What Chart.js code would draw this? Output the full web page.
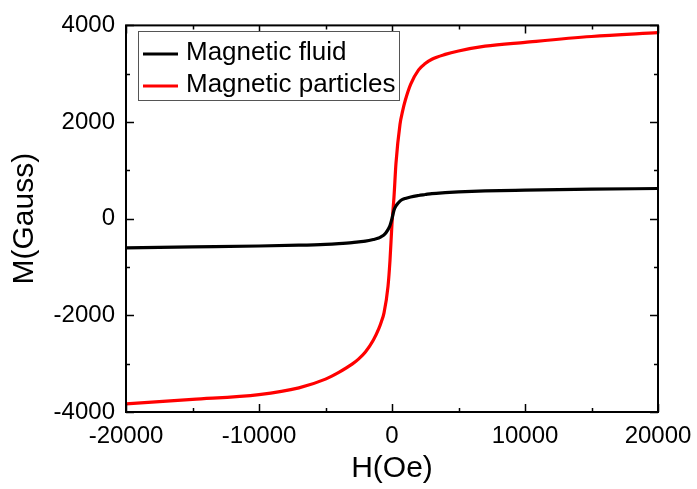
<!DOCTYPE html>
<html>
<head>
<meta charset="utf-8">
<script src="https://cdn.jsdelivr.net/npm/chart.js@4.4.1/dist/chart.umd.min.js"></script>
<style>
  html, body { margin: 0; padding: 0; background: #fff; }
  #wrap { width: 697px; height: 489px; }
</style>
</head>
<body>
<div id="wrap"><canvas id="mhChart"></canvas></div>
<script>
const fieldOe = [-20000, -15000, -10000, -7000, -5000, -4000, -3000, -2500, -2000, -1400, -1000, -800, -600, -300, -150, 0,
  150, 300, 600, 800, 1000, 1400, 2000, 2500, 3000, 4000, 5000, 7000, 10000, 15000, 20000];
const fluidM = [-605, -585, -565, -548, -530, -515, -495, -480, -465, -430, -400, -370, -335, -225, -140, 0,
  175, 265, 365, 400, 420, 450, 480, 500, 520, 540, 555, 575, 590, 610, 625];
const particlesM = [-3830, -3740, -3640, -3500, -3320, -3180, -3010, -2900, -2760, -2510, -2280, -2130, -1950, -1400, -860, -100,
  450, 1150, 1950, 2230, 2450, 2780, 3080, 3210, 3300, 3400, 3470, 3570, 3650, 3770, 3850];
const seriesNames = ["Magnetic fluid", "Magnetic particles"];
const seriesColors = ["#000000", "#ff0000"];
const xTicks = [-20000, -10000, 0, 10000, 20000];
const yTicks = [-4000, -2000, 0, 2000, 4000];

const FONT = "'Liberation Sans', Arial, sans-serif";
const toPoints = (ys) => fieldOe.map((x, i) => ({ x: x, y: ys[i] }));

// box, inward ticks on all four sides, legend inside plot
const framePlugin = {
  id: "frame",
  afterDraw(chart) {
    const { ctx, chartArea: a, scales } = chart;
    ctx.save();
    ctx.strokeStyle = "#000";
    ctx.lineWidth = 2;
    ctx.strokeRect(a.left, a.top, a.right - a.left, a.bottom - a.top);
    ctx.lineWidth = 1.5;
    ctx.beginPath();
    for (let v = -20000; v <= 20000; v += 5000) {
      const px = Math.round(scales.x.getPixelForValue(v)) + 0.5;
      const len = v % 10000 === 0 ? 8 : 4;
      ctx.moveTo(px, a.bottom); ctx.lineTo(px, a.bottom - len);
      ctx.moveTo(px, a.top); ctx.lineTo(px, a.top + len);
    }
    for (let v = -4000; v <= 4000; v += 1000) {
      const py = Math.round(scales.y.getPixelForValue(v)) + 0.5;
      const len = v % 2000 === 0 ? 8 : 4;
      ctx.moveTo(a.left, py); ctx.lineTo(a.left + len, py);
      ctx.moveTo(a.right, py); ctx.lineTo(a.right - len, py);
    }
    ctx.stroke();

    // legend
    const lx = 138, ly = 31, lw = 261, lh = 69;
    ctx.fillStyle = "#fff";
    ctx.fillRect(lx, ly, lw, lh);
    ctx.strokeStyle = "#555";
    ctx.lineWidth = 1;
    ctx.strokeRect(lx + 0.5, ly + 0.5, lw, lh);
    ctx.font = "26px " + FONT;
    ctx.textBaseline = "alphabetic";
    chart.data.datasets.forEach((ds, i) => {
      const base = ly + 29 + i * 32;
      ctx.strokeStyle = ds.borderColor;
      ctx.lineWidth = 3;
      ctx.beginPath();
      ctx.moveTo(lx + 5, base - 6); ctx.lineTo(lx + 40, base - 6);
      ctx.stroke();
      ctx.fillStyle = "#000";
      ctx.fillText(ds.label, lx + 48, base);
    });
    ctx.restore();
  },
};

new Chart(document.getElementById("mhChart"), {
  type: "scatter",
  data: {
    datasets: [
      {
        label: seriesNames[0],
        data: toPoints(fluidM),
        borderColor: seriesColors[0],
        backgroundColor: seriesColors[0],
        borderWidth: 3.2,
        showLine: true,
        pointRadius: 0,
        cubicInterpolationMode: "monotone",
      },
      {
        label: seriesNames[1],
        data: toPoints(particlesM),
        borderColor: seriesColors[1],
        backgroundColor: seriesColors[1],
        borderWidth: 3.2,
        showLine: true,
        pointRadius: 0,
        cubicInterpolationMode: "monotone",
      },
    ],
  },
  options: {
    responsive: true,
    maintainAspectRatio: false,
    animation: false,
    layout: { padding: { top: 25, right: 39, left: 0, bottom: 0 } },
    scales: {
      x: {
        type: "linear",
        min: -20000,
        max: 20000,
        afterBuildTicks: (s) => { s.ticks = xTicks.map((v) => ({ value: v })); },
        afterFit: (s) => {
          s.height = 77;
          s.paddingLeft = 0;
          s.paddingRight = 0;
        },
        grid: { display: false, drawTicks: false },
        border: { display: false },
        ticks: {
          color: "#000",
          padding: 10,
          maxRotation: 0,
          font: { family: FONT, size: 24 },
          callback: (v) => String(v),
        },
        title: {
          display: true,
          text: "H(Oe)",
          color: "#000",
          padding: { top: 0, bottom: 2 },
          font: { family: FONT, size: 30 },
        },
      },
      y: {
        type: "linear",
        min: -4000,
        max: 4000,
        afterBuildTicks: (s) => { s.ticks = yTicks.map((v) => ({ value: v })); },
        afterFit: (s) => { s.width = 126; },
        grid: { display: false, drawTicks: false },
        border: { display: false },
        ticks: {
          color: "#000",
          padding: 11,
          font: { family: FONT, size: 24 },
          callback: (v) => String(v),
        },
        title: {
          display: true,
          text: "M(Gauss)",
          color: "#000",
          padding: { top: 7, bottom: 0 },
          font: { family: FONT, size: 30 },
        },
      },
    },
    plugins: {
      legend: { display: false },
      tooltip: { enabled: false },
    },
  },
  plugins: [framePlugin],
});
</script>
</body>
</html>
